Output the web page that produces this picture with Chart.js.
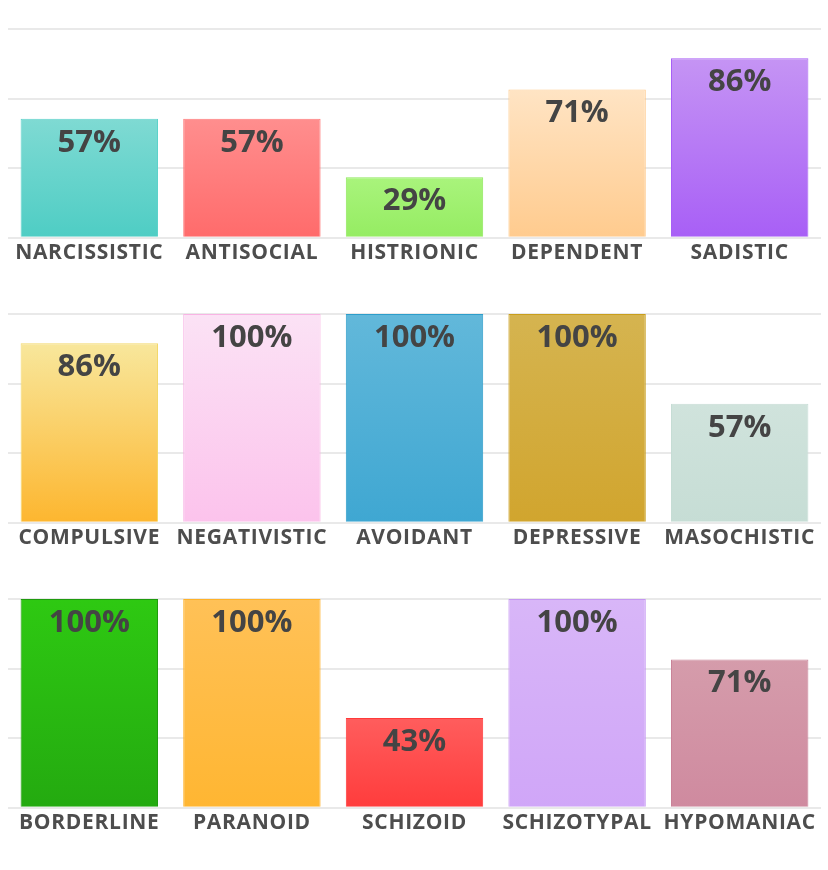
<!DOCTYPE html>
<html>
<head>
<meta charset="utf-8">
<script src="https://cdn.jsdelivr.net/npm/chart.js@4.4.1/dist/chart.umd.min.js"></script>
<style>
  html, body { margin: 0; padding: 0; background: #fff; }
  .row { position: absolute; left: 0; width: 828px; height: 285px; }
</style>
</head>
<body>
<div class="row" style="top:0"><canvas id="row1"></canvas></div>
<div class="row" style="top:285px"><canvas id="row2"></canvas></div>
<div class="row" style="top:570px"><canvas id="row3"></canvas></div>
<script>
const labelsRow1 = ["NARCISSISTIC", "ANTISOCIAL", "HISTRIONIC", "DEPENDENT", "SADISTIC"];
const valuesRow1 = [57, 57, 29, 71, 86];
const labelsRow2 = ["COMPULSIVE", "NEGATIVISTIC", "AVOIDANT", "DEPRESSIVE", "MASOCHISTIC"];
const valuesRow2 = [86, 100, 100, 100, 57];
const labelsRow3 = ["BORDERLINE", "PARANOID", "SCHIZOID", "SCHIZOTYPAL", "HYPOMANIAC"];
const valuesRow3 = [100, 100, 43, 100, 71];
const gridTicks = [0, 100 / 3, 200 / 3, 100];

// top colour, bottom colour, border
const colorsRow1 = [
  ["#7fdad3", "#4ecdc4", "#5cd2ca"],
  ["#ff8e8e", "#ff6b6b", "#ff7a7a"],
  ["#a9f47c", "#95ec62", "#8fe85c"],
  ["#ffe4c4", "#ffcb8e", "#ffc98a"],
  ["#c594f4", "#a85ff6", "#a85ff6"]
];
const colorsRow2 = [
  ["#f8e79c", "#fdb62f", "#f3d86a"],
  ["#fbe2f5", "#fcc3ec", "#f8b4e4"],
  ["#62b8da", "#3fa7d2", "#2d9dca"],
  ["#d5b450", "#d1a52e", "#c99e1c"],
  ["#d0e3dc", "#c6ddd5", "#c6ddd5"]
];
const colorsRow3 = [
  ["#2ec912", "#24aa10", "#1f9b0e"],
  ["#ffc157", "#ffb632", "#ffb22a"],
  ["#ff5d5d", "#ff3c3c", "#ff3a3a"],
  ["#d8b6f8", "#d0a6f8", "#c496f2"],
  ["#d59cab", "#cf8a9f", "#c98398"]
];

const valueLabels = {
  id: "valueLabels",
  beforeDraw(chart) {
    // slightly spaced out category labels
    chart.ctx.letterSpacing = "0.7px";
  },
  afterDatasetsDraw(chart) {
    const ctx = chart.ctx;
    const meta = chart.getDatasetMeta(0);
    ctx.save();
    ctx.letterSpacing = "0px";
    ctx.font = "bold 31px 'Open Sans'";
    ctx.fillStyle = "#444444";
    ctx.textAlign = "center";
    ctx.textBaseline = "middle";
    meta.data.forEach((bar, i) => {
      ctx.fillText(chart.data.datasets[0].data[i] + "%", bar.x, bar.y + 24);
    });
    ctx.restore();
  }
};

function makeRow(id, labels, values, colors) {
  new Chart(document.getElementById(id), {
    type: "bar",
    data: {
      labels: labels,
      datasets: [{
        data: values,
        backgroundColor(c) {
          const chart = c.chart;
          const area = chart.chartArea;
          const col = colors[c.dataIndex];
          if (!area || !chart.scales.y) return col[1];
          const top = chart.scales.y.getPixelForValue(values[c.dataIndex]);
          const g = chart.ctx.createLinearGradient(0, top, 0, area.bottom);
          g.addColorStop(0, col[0]);
          g.addColorStop(1, col[1]);
          return g;
        },
        borderColor: colors.map(c => c[2]),
        borderWidth: 1,
        borderSkipped: "bottom",
        categoryPercentage: 1,
        barPercentage: 0.845
      }]
    },
    options: {
      responsive: true,
      maintainAspectRatio: false,
      animation: false,
      layout: { padding: { top: 29, left: 8, right: 7, bottom: 16 } },
      plugins: { legend: { display: false }, tooltip: { enabled: false } },
      scales: {
        x: {
          grid: { display: false, drawTicks: false },
          border: { display: false },
          ticks: {
            padding: 3,
            color: "#4d4d4d",
            font: { family: "'Open Sans'", size: 21, weight: "bold" },
            maxRotation: 0,
            autoSkip: false
          }
        },
        y: {
          min: 0,
          max: 100,
          afterBuildTicks(scale) { scale.ticks = gridTicks.map(v => ({ value: v })); },
          grid: { color: "#e9e9e9", lineWidth: 2, drawTicks: false },
          border: { display: false },
          ticks: { display: false }
        }
      }
    },
    plugins: [valueLabels]
  });
}

makeRow("row1", labelsRow1, valuesRow1, colorsRow1);
makeRow("row2", labelsRow2, valuesRow2, colorsRow2);
makeRow("row3", labelsRow3, valuesRow3, colorsRow3);
</script>
</body>
</html>
